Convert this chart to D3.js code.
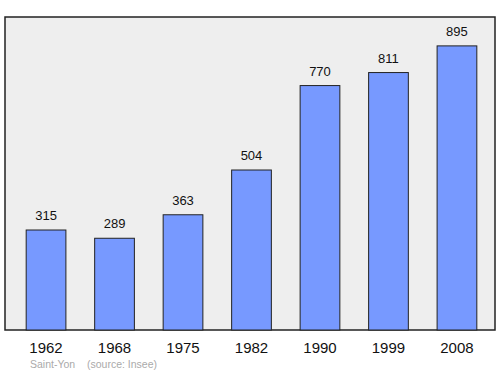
<!DOCTYPE html>
<html>
<head>
<meta charset="utf-8">
<script src="https://cdn.jsdelivr.net/npm/d3@7"></script>
<style>
  body { margin: 0; background: #fff; }
  text { font-family: "Liberation Sans", Arial, sans-serif; }
</style>
</head>
<body>
<svg id="chart" width="500" height="374"></svg>
<script>
const years = ['1962', '1968', '1975', '1982', '1990', '1999', '2008'];
const population = [315, 289, 363, 504, 770, 811, 895];

const frame = {left: 5, top: 17, right: 495, bottom: 330};

const svg = d3.select('#chart');

svg.append('rect')
    .attr('x', frame.left)
    .attr('y', frame.top)
    .attr('width', frame.right - frame.left)
    .attr('height', frame.bottom - frame.top)
    .attr('fill', '#eeeeee')
    .attr('stroke', '#222')
    .attr('stroke-width', 1.5);

const x = d3.scaleBand()
    .domain(years)
    .range([frame.left + 2, frame.right + 1])
    .paddingInner(0.42)
    .paddingOuter(0.28);

const y = d3.scaleLinear()
    .domain([0, 986])
    .range([frame.bottom, frame.top]);

const bars = svg.append('g').attr('class', 'bars');

bars.selectAll('rect')
    .data(population)
    .join('rect')
    .attr('x', (d, i) => x(years[i]))
    .attr('y', d => y(d))
    .attr('width', x.bandwidth())
    .attr('height', d => frame.bottom - y(d))
    .attr('fill', '#7799ff')
    .attr('stroke', '#222')
    .attr('stroke-width', 1);

svg.append('g').selectAll('text')
    .data(population)
    .join('text')
    .attr('x', (d, i) => x(years[i]) + x.bandwidth() / 2)
    .attr('y', d => y(d) - 10)
    .attr('text-anchor', 'middle')
    .attr('font-size', 13)
    .attr('fill', '#111')
    .text(d => d);

svg.append('g').selectAll('text')
    .data(years)
    .join('text')
    .attr('x', d => x(d) + x.bandwidth() / 2)
    .attr('y', 352.5)
    .attr('text-anchor', 'middle')
    .attr('font-size', 15)
    .attr('fill', '#111')
    .text(d => d);

svg.append('text')
    .attr('x', 30)
    .attr('y', 368)
    .attr('font-size', 10.5)
    .attr('fill', '#aaaaaa')
    .text('Saint-Yon');

svg.append('text')
    .attr('x', 87)
    .attr('y', 368)
    .attr('font-size', 10.5)
    .attr('fill', '#aaaaaa')
    .text('(source: Insee)');
</script>
</body>
</html>
